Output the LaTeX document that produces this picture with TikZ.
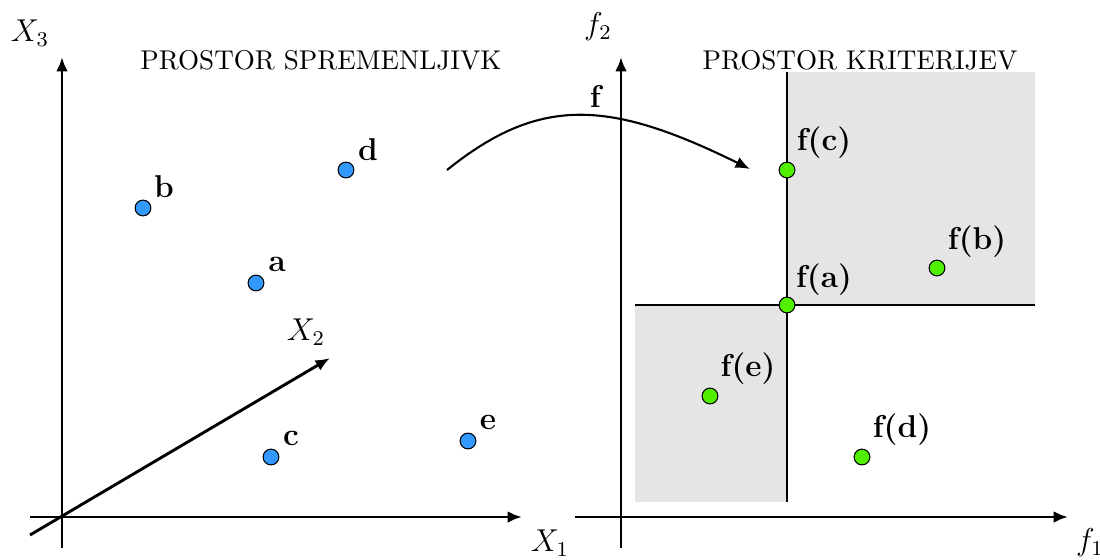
\documentclass[tikz,border=0pt]{standalone}
\usetikzlibrary{arrows.meta}
\definecolor{dotblue}{RGB}{51,153,255}
\definecolor{dotgreen}{RGB}{80,240,0}
\definecolor{regiongray}{RGB}{229,229,229}
\begin{document}
\begin{tikzpicture}[x=0.38pt,y=-0.38pt,
  axis/.style={line width=1.1pt,-{Latex[length=5.5pt,width=4.5pt]}},
  plainaxis/.style={line width=1pt},
  bluedot/.style={circle,draw=black,line width=0.4pt,fill=dotblue,minimum size=6pt,inner sep=0pt},
  greendot/.style={circle,draw=black,line width=0.4pt,fill=dotgreen,minimum size=6pt,inner sep=0pt},
  lab/.style={font=\large,inner sep=0pt},
  title/.style={font=\fontsize{10.3pt}{12pt}\selectfont,inner sep=0pt},
  mapping/.style={line width=0.8pt,-{Latex[length=5.5pt,width=4.5pt]}}]
\useasboundingbox (0,0) rectangle (1100,559);
% regions
\fill[regiongray] (787,72) rectangle (1035,305);
\fill[regiongray] (635,305) rectangle (787,502);
% left axes
\coordinate (x3s) at (62,548); \coordinate (x3e) at (62,57);
\coordinate (x1s) at (30,517); \coordinate (x1e) at (522,517);
\coordinate (x2s) at (30,535); \coordinate (x2e) at (330,358);
\draw[axis] (x3s) -- (x3e);
\draw[axis] (x1s) -- (x1e);
\draw[axis] (x2s) -- (x2e);
\node[lab] (lx3) at (30,33) {$X_3$};
\node[lab] (lx1) at (550,543) {$X_1$};
\node[lab] (lx2) at (306,332) {$X_2$};
\node[title] (t1) at (321,60) {PROSTOR SPREMENLJIVK};
% right axes
\coordinate (f2s) at (621,548); \coordinate (f2e) at (621,57);
\coordinate (f1s) at (575,517); \coordinate (f1e) at (1068,517);
\draw[axis] (f2s) -- (f2e);
\draw[axis] (f1s) -- (f1e);
\node[lab] (lf2) at (598,27) {$f_2$};
\node[lab] (lf1) at (1090,543) {$f_1$};
\node[title] (t2) at (860,60) {PROSTOR KRITERIJEV};
% dominance lines
\coordinate (vt) at (787,72); \coordinate (vb) at (787,502);
\coordinate (hl) at (635,305); \coordinate (hr) at (1035,305);
\draw[plainaxis] (vt) -- (vb);
\draw[plainaxis] (hl) -- (hr);
% left points
\node[bluedot] (a) at (256,283) {};
\node[bluedot] (b) at (143,208) {};
\node[bluedot] (c) at (271,457) {};
\node[bluedot] (d) at (346,170) {};
\node[bluedot] (e) at (468,441) {};
\node[lab] (la) at (277,264) {$\mathbf{a}$};
\node[lab] (lb) at (164,187) {$\mathbf{b}$};
\node[lab] (lc) at (291,438) {$\mathbf{c}$};
\node[lab] (ld) at (368,150) {$\mathbf{d}$};
\node[lab] (le) at (488,422) {$\mathbf{e}$};
% right points
\node[greendot] (fa) at (787,305) {};
\node[greendot] (fb) at (937,268) {};
\node[greendot] (fc) at (787,170) {};
\node[greendot] (fd) at (862,457) {};
\node[greendot] (fe) at (710,396) {};
\node[lab] (lfa) at (824,280) {\textbf{f(a)}};
\node[lab] (lfb) at (977,242) {\textbf{f(b)}};
\node[lab] (lfc) at (824,143) {\textbf{f(c)}};
\node[lab] (lfd) at (902,430) {\textbf{f(d)}};
\node[lab] (lfe) at (748,369) {\textbf{f(e)}};
% mapping
\coordinate (ms) at (447,170); \coordinate (me) at (750,169);
\draw[mapping] (ms) .. controls (540,95) and (610,100) .. (me);
\node[lab] (lf) at (597,97) {$\mathbf{f}$};
\end{tikzpicture}
\end{document}
